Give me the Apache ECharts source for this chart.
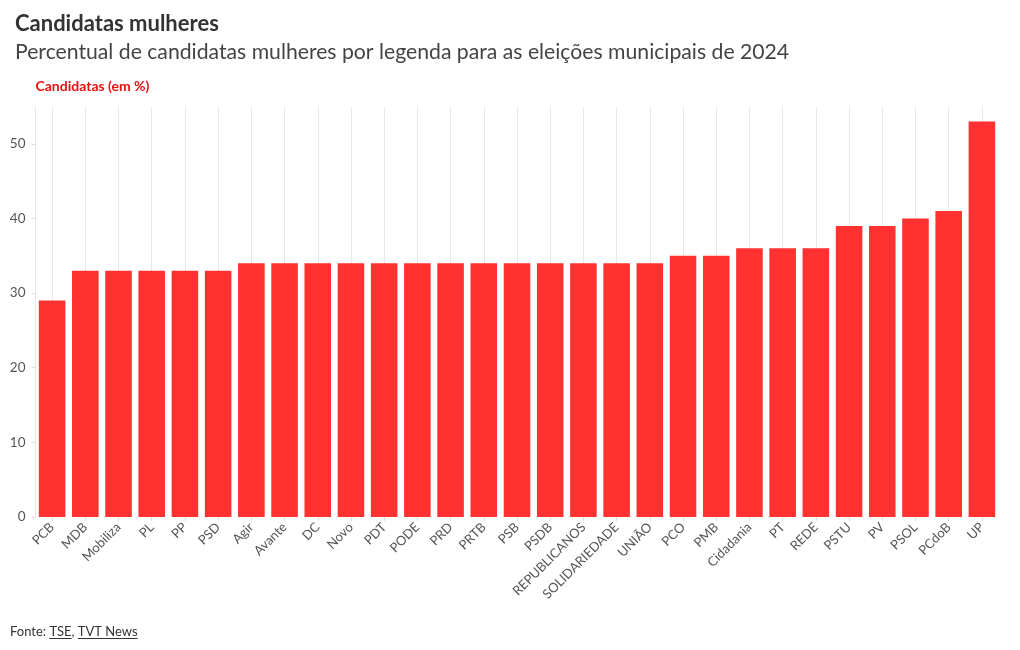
<!DOCTYPE html>
<html><head><meta charset="utf-8">
<script src="https://cdn.jsdelivr.net/npm/echarts@6/dist/echarts.min.js"></script>
<style>html,body{margin:0;padding:0;background:#fff}#c{width:1020px;height:650px}</style>
</head><body><div id="c"></div>
<script>
const categories = ['PCB','MDB','Mobiliza','PL','PP','PSD','Agir','Avante','DC','Novo','PDT','PODE','PRD','PRTB','PSB','PSDB','REPUBLICANOS','SOLIDARIEDADE','UNIÃO','PCO','PMB','Cidadania','PT','REDE','PSTU','PV','PSOL','PCdoB','UP'];
const values = [29,33,33,33,33,33,34,34,34,34,34,34,34,34,34,34,34,34,34,35,35,36,36,36,39,39,40,41,53];
const yTicks = [0,10,20,30,40,50];
const titleText = 'Candidatas mulheres';
const subtitleText = 'Percentual de candidatas mulheres por legenda para as eleições municipais de 2024';
const axisName = 'Candidatas (em %)';
const sourcePrefix = 'Fonte: ';
const sourceLinks = ['TSE', 'TVT News'];

const FONT = 'Lato';
const FS = 13;
// measure footer pieces for underline placement
const ctx = document.createElement('canvas').getContext('2d');
ctx.font = FS + 'px ' + FONT;
const footer = [];
let fx = 10;
footer.push({type:'text', left:fx, top:625, style:{text:sourcePrefix, fontFamily:FONT, fontSize:FS, fill:'#333'}});
fx += ctx.measureText(sourcePrefix).width;
sourceLinks.forEach(function(s, i){
  const w = ctx.measureText(s).width;
  footer.push({type:'text', left:fx, top:625, style:{text:s, fontFamily:FONT, fontSize:FS, fill:'#333'}});
  footer.push({type:'line', shape:{x1:fx, y1:638.5, x2:fx+w, y2:638.5}, style:{stroke:'#333', lineWidth:1}});
  fx += w;
  if (i < sourceLinks.length - 1) {
    footer.push({type:'text', left:fx, top:625, style:{text:', ', fontFamily:FONT, fontSize:FS, fill:'#333'}});
    fx += ctx.measureText(', ').width;
  }
});

const chart = echarts.init(document.getElementById('c'), null, {renderer:'canvas'});
chart.setOption({
  animation:false,
  backgroundColor:'#fff',
  title:[
    {text:titleText, left:10, top:8, textStyle:{fontFamily:FONT,fontWeight:'bold',fontSize:22,color:'#333'}},
    {text:subtitleText, left:10, top:37, textStyle:{fontFamily:FONT,fontWeight:'normal',fontSize:21.2,color:'#444'}}
  ],
  grid:{left:35.5, right:21.5, top:106.5, bottom:133, containLabel:false},
  xAxis:{
    type:'category', data:categories,
    axisLine:{show:false},
    axisTick:{show:true, alignWithLabel:true, length:4, lineStyle:{color:'#ddd'}},
    splitLine:{show:true, alignWithLabel:true, lineStyle:{color:'#e8e8e8', width:1}},
    axisLabel:{rotate:45, interval:0, fontFamily:FONT, fontSize:13, color:'#555', margin:8}
  },
  yAxis:{
    type:'value', min:0, max:55, interval:10,
    name:axisName, nameLocation:'end', nameGap:13,
    nameTextStyle:{fontFamily:FONT, fontWeight:'bold', fontSize:14, color:'#e81010', align:'left'},
    axisLine:{show:true, lineStyle:{color:'#e8e8e8'}},
    axisTick:{show:true, length:4, lineStyle:{color:'#ddd'}},
    splitLine:{show:false},
    axisLabel:{fontFamily:FONT, fontSize:13.5, color:'#555', margin:10, showMaxLabel:false,
      formatter:function(v){return yTicks.indexOf(v)>=0 ? String(v) : '';}}
  },
  series:[{
    type:'bar', data:values, barCategoryGap:'20%',
    itemStyle:{color:'#ff3131'}
  }],
  graphic:footer
});
</script></body></html>
